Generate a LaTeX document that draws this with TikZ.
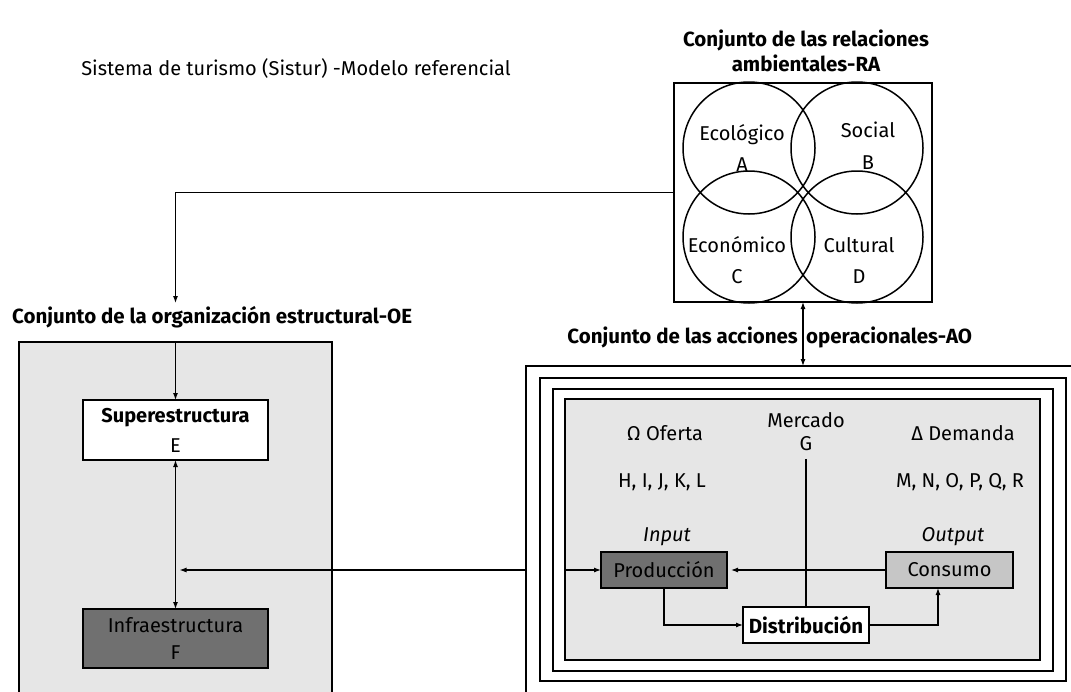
\documentclass[tikz,border=0pt]{standalone}
\usepackage{fontspec}
\setmainfont{Fira Sans}
\usetikzlibrary{arrows.meta,calc}
\definecolor{bgfill}{HTML}{E6E6E6}
\definecolor{darkfill}{HTML}{707070}
\definecolor{midfill}{HTML}{C6C6C6}
\begin{document}
\begin{tikzpicture}[x=1pt,y=-1pt,
  ln/.style={draw=black, line width=1.1pt},
  arr/.style={ln, -{Latex[length=7pt,width=5pt]}},
  darr/.style={ln, {Latex[length=7pt,width=5pt]}-{Latex[length=7pt,width=5pt]}},
  frame/.style={draw=black, line width=1.5pt, anchor=north west, inner sep=0, outer sep=0},
  boxs/.style={draw=black, line width=1.3pt, inner sep=0, outer sep=0, align=center},
  ttl/.style={font=\bfseries\fontsize{20.5}{25}\selectfont, inner sep=0, align=center},
  txt/.style={font=\fontsize{20}{22}\selectfont, inner sep=0, align=center},
  ring/.style={circle, draw=black, line width=1.5pt, minimum size=132pt, inner sep=0}
]
\useasboundingbox (0,0) rectangle (1071,691);
\clip (0,0) rectangle (1071,691);
\fill[white] (0,0) rectangle (1071,691);

% main title
\node[txt] (title) at (296,68) {Sistema de turismo (Sistur) -Modelo referencial};

% RA block
\node[ttl] (ratitle) at (806,51) {Conjunto de las relaciones\\ambientales-RA};
\node[frame, minimum width=258pt, minimum height=219pt] (ra) at (674,83) {};
\node[ring] (ca) at (749,148) {};
\node[ring] (cb) at (857,148) {};
\node[ring] (cc) at (749,237) {};
\node[ring] (cd) at (857,237) {};
\node[txt, font=\fontsize{20}{31}\selectfont] (la) at (742,147.5) {Ecológico\\A};
\node[txt, font=\fontsize{20}{32}\selectfont] (lb) at (868,146) {Social\\B};
\node[txt, font=\fontsize{20}{31}\selectfont] (lc) at (737,260.5) {Económico\\C};
\node[txt, font=\fontsize{20}{31}\selectfont] (ld) at (859,260.5) {Cultural\\D};

% OE block
\node[frame, fill=bgfill, minimum width=313pt, minimum height=360pt] (oe) at (19,342) {};
\node[ttl, anchor=west] (oetitle) at (12,317) {Conjunto de la organización estructural-OE};
\node[boxs, fill=white, minimum width=185pt, minimum height=60pt, font=\fontsize{20}{30}\selectfont] (super) at (175.5,430) {\textbf{Superestructura}\\E};
\node[boxs, fill=darkfill, minimum width=185pt, minimum height=59pt, font=\fontsize{20}{27}\selectfont] (infra) at (175.5,638.5) {Infraestructura\\F};

% AO block
\node[frame, minimum width=560pt, minimum height=340pt] (f1) at (526,366) {};
\node[frame, minimum width=526pt, minimum height=303pt] (f2) at (540,378) {};
\node[frame, minimum width=500pt, minimum height=282pt] (f3) at (553,389) {};
\node[frame, fill=bgfill, minimum width=475pt, minimum height=261pt] (f4) at (565,399) {};
\node[ttl, anchor=east] (aotitle1) at (798,337) {Conjunto de las acciones};
\node[ttl, anchor=west] (aotitle2) at (806,337) {operacionales-AO};

\node[txt] (oferta) at (665,433) {Ω Oferta};
\node[txt] (demanda) at (963,433) {Δ Demanda};
\node[txt, font=\fontsize{20}{23}\selectfont] (mercado) at (806,431.5) {Mercado\\G};
\node[txt] (hl) at (662,482) {H, I, J, K, L};
\node[txt] (mr) at (960,482) {M, N, O, P, Q, R};
\node[txt, font=\itshape\fontsize{20}{22}\selectfont] (input) at (667,537) {Input};
\node[txt, font=\itshape\fontsize{20}{22}\selectfont] (output) at (953,537) {Output};

\node[boxs, fill=darkfill, minimum width=126pt, minimum height=36pt, font=\fontsize{20}{22}\selectfont] (prod) at (664,570) {Producción};
\node[boxs, fill=midfill, minimum width=127pt, minimum height=36pt, font=\fontsize{20}{22}\selectfont] (cons) at (949.5,570) {Consumo};
\node[boxs, fill=white, minimum width=126pt, minimum height=36pt, font=\bfseries\fontsize{20.5}{22}\selectfont] (dist) at (806,625) {Distribución};

% connectors
\coordinate (oearr) at (175.5,303);
\draw[arr] (ra.west) -| (oearr);
\draw[arr] (oe.north) -- (super.north);
\draw[darr] (super.south) -- (infra.north);
\coordinate (oej) at ($(super.south |- prod.west)+(4,0)$);
\draw[arr] (f1.west |- prod.west) -- (oej);
\draw[arr] (f4.west |- prod.west) -- (prod.west);
\draw[darr] (ra.south) -- (ra.south |- f1.north);
\draw[arr] (cons.west) -- ([xshift=4pt]prod.east);
\draw[arr] (prod.south) |- (dist.west);
\draw[arr] (dist.east) -| ([xshift=-11.5pt]cons.south);
\draw[ln] (mercado.south) ++(0,8) -- (dist.north);
\end{tikzpicture}
\end{document}
